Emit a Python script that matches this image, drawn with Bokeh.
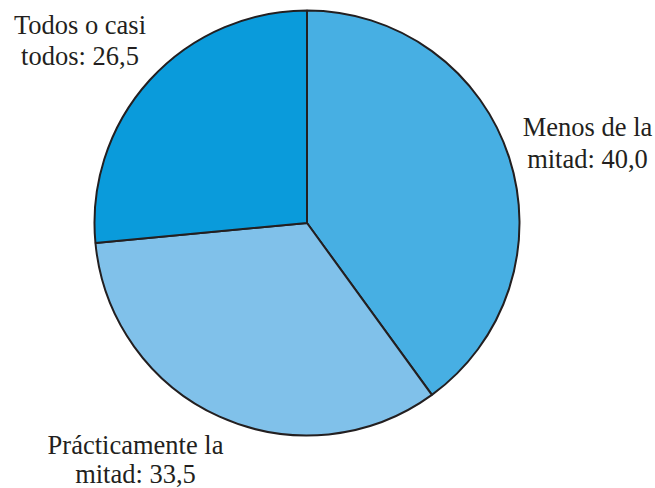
from bokeh.plotting import figure
from bokeh.models import Range1d, ColumnDataSource
from bokeh.core.properties import value
from bokeh.embed import file_html
from bokeh.resources import INLINE
import math

# ---- data ----
categories = ["Menos de la mitad", "Prácticamente la mitad", "Todos o casi todos"]
values = [40.0, 33.5, 26.5]
label_line1 = ["Menos de la", "Prácticamente la", "Todos o casi"]
label_line2 = ["mitad: 40,0", "mitad: 33,5", "todos: 26,5"]
colors = ["#47AFE3", "#80C1EA", "#0A9BDB"]

# ---- layout (screen pixels) ----
W, H = 655, 488
def sx(x):
    return x
def sy(y):
    return H - y

cx, cy, r = 306.5, 222.5, 212.5
label_x = [587, 135, 79.5]
label_y1 = [126, 444, 24]
label_y2 = [158, 473, 55]

total = sum(values)
starts, ends = [], []
acc = 0.0
for v in values:
    a0 = math.pi / 2 - 2 * math.pi * acc / total
    acc += v
    a1 = math.pi / 2 - 2 * math.pi * acc / total
    starts.append(a0)
    ends.append(a1)

src = ColumnDataSource(dict(start=starts, end=ends, color=colors, cat=categories))

p = figure(width=W, height=H, output_backend="svg", toolbar_location=None,
           x_range=Range1d(0, W), y_range=Range1d(0, H), min_border=0,
           background_fill_color="white", border_fill_color="white")
p.axis.visible = False
p.grid.visible = False
p.outline_line_color = None

p.wedge(x=sx(cx), y=sy(cy), radius=r, start_angle="start", end_angle="end",
        direction="clock", fill_color="color", line_color="#231F20",
        line_width=2, source=src)

lsrc = ColumnDataSource(dict(
    x=[sx(v) for v in label_x] * 2,
    y=[sy(v) for v in label_y1] + [sy(v) for v in label_y2],
    t=label_line1 + label_line2))
p.text(x="x", y="y", text="t", source=lsrc, text_font=value("Liberation Serif"),
       text_font_size="26.5px", text_align="center", text_baseline="alphabetic",
       text_color="#231F20")

open("out.html", "w").write(file_html(p, INLINE))
